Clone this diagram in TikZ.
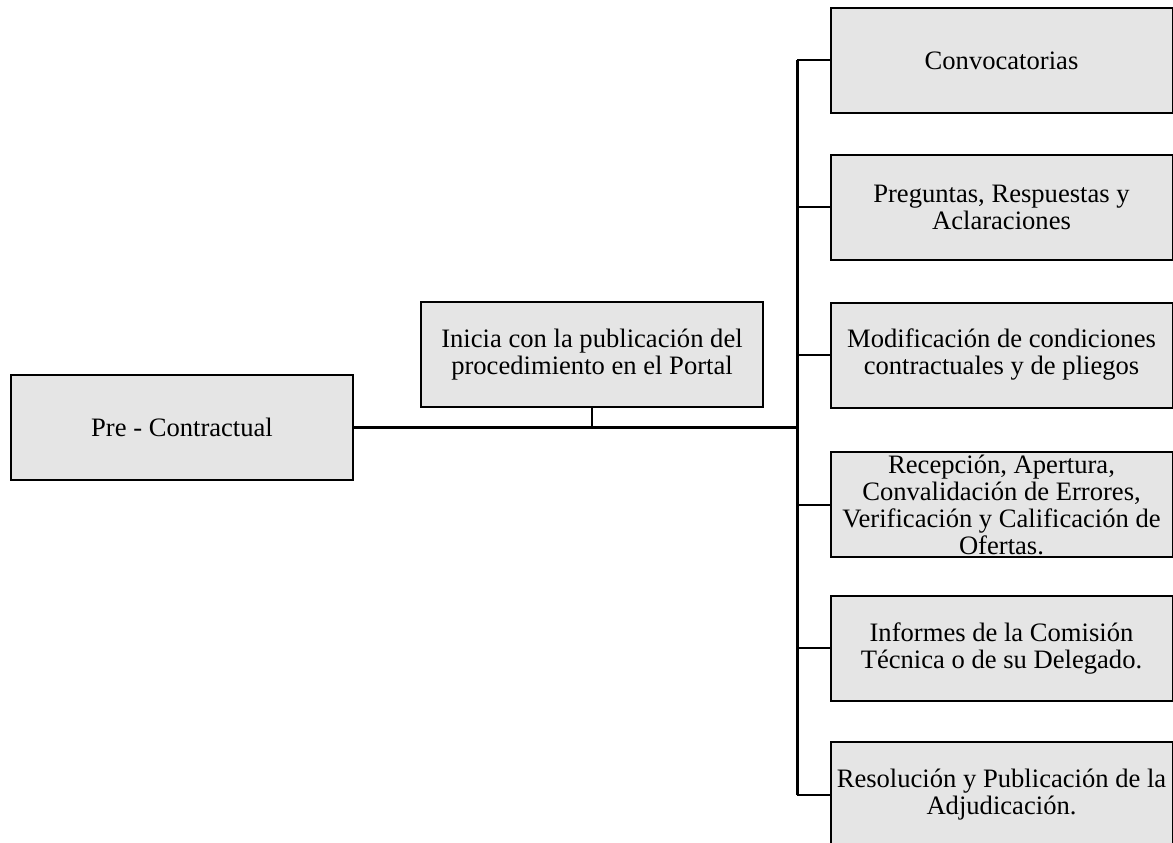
\documentclass[tikz,border=0pt]{standalone}
\usepackage{fontspec}
\setmainfont{Liberation Serif}
\usetikzlibrary{positioning}

\begin{document}
\begin{tikzpicture}[x=1pt, y=-1pt, align=center,
    caja/.style={rectangle, draw, line width=2pt, fill=gray!20, inner sep=0pt,
        minimum width=342pt, minimum height=105pt,
        font=\fontsize{26.6}{27}\selectfont},
    linea/.style={line width=2pt},
    troncal/.style={line width=3pt}]
    \useasboundingbox (0,0) rectangle (1173,843);

    \node[caja] at (182, 427.5) (pre) {Pre - Contractual};
    \node[caja] at (592, 354.5) (ini) {Inicia con la publicación del\\procedimiento en el Portal};
    \node[caja] at (1001.5, 60.5) (c1) {Convocatorias};
    \node[caja] at (1001.5, 207) (c2) {Preguntas, Respuestas y\\Aclaraciones};
    \node[caja] at (1001.5, 355) (c3) {Modificación de condiciones\\contractuales y de pliegos};
    \node[caja] at (1001.5, 504.5) (c4) {Recepción, Apertura,\\Convalidación de Errores,\\Verificación y Calificación de\\Ofertas.};
    \node[caja] at (1001.5, 648) (c5) {Informes de la Comisión\\Técnica o de su Delegado.};
    \node[caja] at (1001.5, 794.5) (c6) {Resolución y Publicación de la\\Adjudicación.};
    \coordinate (eje) at (797, 427.5);

    \draw[troncal]  (pre.east) -- (eje);
    \draw[linea]    (ini.south) -- (ini.south |- eje);
    \draw[troncal]  (eje |- c1.west) -- (eje |- c6.west);
    \foreach \i in {1,...,6}
        \draw[linea] (eje |- c\i.west) -- (c\i.west);
\end{tikzpicture}
\end{document}
